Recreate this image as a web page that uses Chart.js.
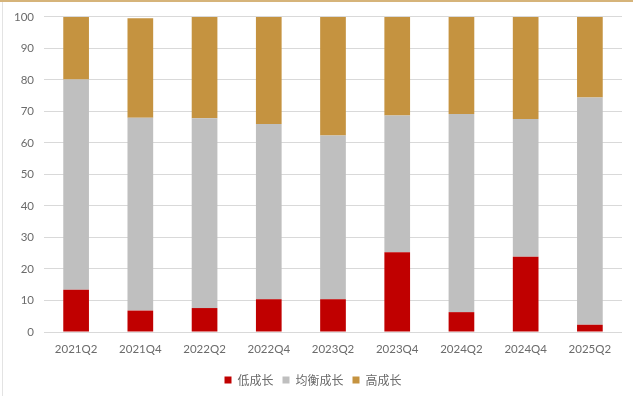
<!DOCTYPE html>
<html>
<head>
<meta charset="utf-8">
<script src="https://cdn.jsdelivr.net/npm/chart.js@4"></script>
<style>
    html, body { margin: 0; padding: 0; background: #fff; }
    #wrap { position: relative; width: 633px; height: 396px; overflow: hidden; }
    #topLine { position: absolute; left: 0; top: 0; width: 633px; height: 2px; background: #d6b47a; }
    #leftLine { position: absolute; left: 2px; top: 2px; width: 1px; height: 394px; background: #e3e3e3; }
    canvas { position: absolute; left: 0; top: 0; }
</style>
</head>
<body>
<div id="wrap">
    <canvas id="growthChart" width="633" height="396"></canvas>
    <div id="topLine"></div>
    <div id="leftLine"></div>
</div>
<script>
// Data
const quarters = ['2021Q2', '2021Q4', '2022Q2', '2022Q4', '2023Q2', '2023Q4', '2024Q2', '2024Q4', '2025Q2'];
const lowGrowth = [13.4, 6.8, 7.6, 10.4, 10.4, 25.3, 6.3, 23.9, 2.3];
const balancedGrowth = [66.7, 61.2, 60.2, 55.6, 52.0, 43.4, 62.9, 43.7, 72.1];
const highGrowth = [19.9, 31.6, 32.2, 34.0, 37.6, 31.3, 30.8, 32.4, 25.6];
const yTicks = [0, 10, 20, 30, 40, 50, 60, 70, 80, 90, 100];

const textColor = '#6b6b6b';
const tickFont = { family: 'Lato, "Liberation Sans", sans-serif', size: 11.5 };

function initializeChart() {
    const ctx = document.getElementById('growthChart').getContext('2d');

    new Chart(ctx, {
        type: 'bar',
        data: {
            labels: quarters,
            datasets: [
                {
                    label: '低成长',
                    data: lowGrowth,
                    backgroundColor: '#c00000'
                },
                {
                    label: '均衡成长',
                    data: balancedGrowth,
                    backgroundColor: '#bfbfbf'
                },
                {
                    label: '高成长',
                    data: highGrowth,
                    backgroundColor: '#c59340'
                }
            ]
        },
        options: {
            responsive: false,
            animation: false,
            devicePixelRatio: 1,
            layout: {
                padding: { left: 4, right: 11, top: 14.5, bottom: 0 }
            },
            datasets: {
                bar: {
                    barPercentage: 0.4,
                    categoryPercentage: 1.0
                }
            },
            plugins: {
                tooltip: { enabled: false },
                legend: {
                    position: 'bottom',
                    labels: {
                        color: textColor,
                        boxWidth: 7,
                        boxHeight: 7,
                        padding: 9,
                        font: { family: '"Noto Sans CJK SC", sans-serif', size: 12 }
                    }
                }
            },
            scales: {
                x: {
                    stacked: true,
                    grid: { display: false },
                    border: { display: false },
                    afterFit: (axis) => {
                        axis.height = 33;
                    },
                    ticks: {
                        color: textColor,
                        font: tickFont,
                        padding: 2,
                        maxRotation: 0
                    }
                },
                y: {
                    stacked: true,
                    min: 0,
                    max: 100,
                    afterBuildTicks: (axis) => {
                        axis.ticks = yTicks.map(v => ({ value: v }));
                    },
                    afterFit: (axis) => {
                        axis.width = 40;
                    },
                    grid: {
                        color: '#d9d9d9',
                        lineWidth: 1,
                        drawTicks: false
                    },
                    border: { display: false },
                    ticks: {
                        color: textColor,
                        font: tickFont,
                        padding: 10
                    }
                }
            }
        }
    });
}

document.addEventListener('DOMContentLoaded', initializeChart);
</script>
</body>
</html>
